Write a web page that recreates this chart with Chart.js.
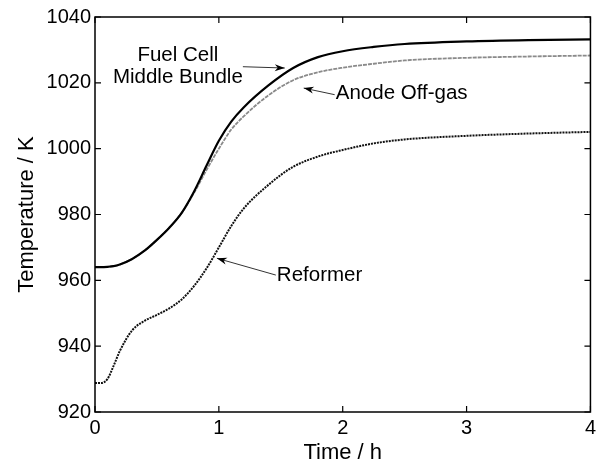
<!DOCTYPE html>
<html>
<head>
<meta charset="utf-8">
<script src="https://cdn.jsdelivr.net/npm/chart.js@4/dist/chart.umd.min.js"></script>
<style>
    html, body { margin: 0; padding: 0; background: #fff; }
    #wrap { width: 600px; height: 466px; }
</style>
</head>
<body>
<div id="wrap"><canvas id="tempChart"></canvas></div>
<script>
// Data
const time = [0, 0.05, 0.1, 0.15, 0.2, 0.3, 0.4, 0.5, 0.6, 0.7, 0.8, 0.9, 1.0, 1.1, 1.2, 1.4, 1.6, 1.8, 2.0, 2.25, 2.5, 3.0, 3.5, 4.0];
const fuelCell = [964.0, 964.0, 964.1, 964.3, 964.8, 966.5, 969.0, 972.3, 976.0, 980.5, 987.0, 994.8, 1002.4, 1008.2, 1012.5, 1019.2, 1024.5, 1027.8, 1029.6, 1030.9, 1031.8, 1032.6, 1033.0, 1033.2];
const anodeOffGas = [964.0, 964.0, 964.1, 964.3, 964.8, 966.5, 969.0, 972.3, 976.0, 980.5, 986.6, 993.5, 1000.0, 1005.8, 1009.8, 1016.2, 1020.8, 1023.2, 1024.6, 1025.8, 1026.8, 1027.6, 1028.0, 1028.3];
const reformer = [928.8, 928.8, 930.0, 934.0, 938.5, 944.8, 947.7, 949.5, 951.5, 954.2, 958.3, 963.6, 970.0, 976.5, 981.8, 989.0, 994.5, 997.6, 999.6, 1001.6, 1002.8, 1003.9, 1004.6, 1005.1];
const xTicks = [0, 1, 2, 3, 4];
const yTicks = [920, 940, 960, 980, 1000, 1020, 1040];

const FONT = "'Liberation Sans', Arial, sans-serif";

function pts(values) {
    return time.map((t, i) => ({ x: t, y: values[i] }));
}

// Box, inward ticks and text labels with arrows
const decorPlugin = {
    id: "decor",
    afterDraw(chart) {
        const ctx = chart.ctx;
        const area = chart.chartArea;
        const xs = chart.scales.x;
        const ys = chart.scales.y;
        const tick = 6;

        ctx.save();
        ctx.strokeStyle = "#000";
        ctx.lineWidth = 1.5;
        ctx.strokeRect(area.left, area.top, area.right - area.left, area.bottom - area.top);

        ctx.lineWidth = 1.2;
        ctx.beginPath();
        xTicks.forEach((v) => {
            const px = xs.getPixelForValue(v);
            ctx.moveTo(px, area.bottom);
            ctx.lineTo(px, area.bottom - tick);
            ctx.moveTo(px, area.top);
            ctx.lineTo(px, area.top + tick);
        });
        yTicks.forEach((v) => {
            const py = ys.getPixelForValue(v);
            ctx.moveTo(area.left, py);
            ctx.lineTo(area.left + tick, py);
            ctx.moveTo(area.right, py);
            ctx.lineTo(area.right - tick, py);
        });
        ctx.stroke();

        const P = (t, T) => [xs.getPixelForValue(t), ys.getPixelForValue(T)];

        ctx.fillStyle = "#000";
        ctx.font = "20.5px " + FONT;
        ctx.textBaseline = "middle";

        ctx.textAlign = "center";
        let p = P(0.669, 1028.3);
        ctx.fillText("Fuel Cell", p[0], p[1]);
        p = P(0.669, 1021.6);
        ctx.fillText("Middle Bundle", p[0], p[1]);

        ctx.textAlign = "left";
        p = P(1.944, 1016.9);
        ctx.fillText("Anode Off-gas", p[0], p[1]);
        p = P(1.468, 961.5);
        ctx.fillText("Reformer", p[0], p[1]);

        function arrow(from, to) {
            const a = P(from[0], from[1]);
            const b = P(to[0], to[1]);
            const ang = Math.atan2(b[1] - a[1], b[0] - a[0]);
            ctx.strokeStyle = "#333";
            ctx.lineWidth = 1;
            ctx.beginPath();
            ctx.moveTo(a[0], a[1]);
            ctx.lineTo(b[0], b[1]);
            ctx.stroke();
            ctx.fillStyle = "#000";
            ctx.beginPath();
            ctx.moveTo(b[0], b[1]);
            ctx.lineTo(b[0] - 10 * Math.cos(ang) + 3.5 * Math.sin(ang), b[1] - 10 * Math.sin(ang) - 3.5 * Math.cos(ang));
            ctx.lineTo(b[0] - 7 * Math.cos(ang), b[1] - 7 * Math.sin(ang));
            ctx.lineTo(b[0] - 10 * Math.cos(ang) - 3.5 * Math.sin(ang), b[1] - 10 * Math.sin(ang) + 3.5 * Math.cos(ang));
            ctx.closePath();
            ctx.fill();
        }
        arrow([1.194, 1024.9], [1.532, 1024.5]);
        arrow([1.935, 1016.4], [1.685, 1018.4]);
        arrow([1.46, 961.6], [0.984, 966.7]);
        ctx.restore();
    },
};

// Chart Setup
const ctx = document.getElementById("tempChart").getContext("2d");
new Chart(ctx, {
    type: "line",
    data: {
        datasets: [
            {
                label: "Fuel Cell Middle Bundle",
                data: pts(fuelCell),
                borderColor: "#000",
                borderWidth: 2.2,
                pointRadius: 0,
                cubicInterpolationMode: "monotone",
            },
            {
                label: "Anode Off-gas",
                data: pts(anodeOffGas),
                borderColor: "#8a8a8a",
                borderWidth: 1.8,
                borderDash: [4, 1],
                pointRadius: 0,
                cubicInterpolationMode: "monotone",
            },
            {
                label: "Reformer",
                data: pts(reformer),
                borderColor: "#111",
                borderWidth: 2,
                borderDash: [2, 1],
                pointRadius: 0,
                cubicInterpolationMode: "monotone",
            },
        ],
    },
    options: {
        responsive: true,
        maintainAspectRatio: false,
        animation: false,
        events: [],
        layout: { padding: { top: 17, right: 9, left: 0, bottom: 0 } },
        plugins: { legend: { display: false }, tooltip: { enabled: false } },
        scales: {
            x: {
                type: "linear",
                min: 0,
                max: 4,
                afterBuildTicks: (axis) => { axis.ticks = xTicks.map((v) => ({ value: v })); },
                afterFit: (axis) => { axis.height = 54; },
                grid: { display: false, drawTicks: false },
                border: { display: false },
                ticks: { color: "#000", padding: 4, font: { size: 20, family: FONT }, callback: (v) => String(v) },
                title: { display: true, text: "Time / h", color: "#000", padding: { top: 0, bottom: 0 }, font: { size: 22, family: FONT } },
            },
            y: {
                min: 920,
                max: 1040,
                afterBuildTicks: (axis) => { axis.ticks = yTicks.map((v) => ({ value: v })); },
                afterFit: (axis) => { axis.width = 95; },
                grid: { display: false, drawTicks: false },
                border: { display: false },
                ticks: { color: "#000", padding: 4, font: { size: 20, family: FONT }, callback: (v) => String(v) },
                title: { display: true, text: "Temperature / K", color: "#000", padding: { top: 14, bottom: 0 }, font: { size: 22, family: FONT } },
            },
        },
    },
    plugins: [decorPlugin],
});
</script>
</body>
</html>
